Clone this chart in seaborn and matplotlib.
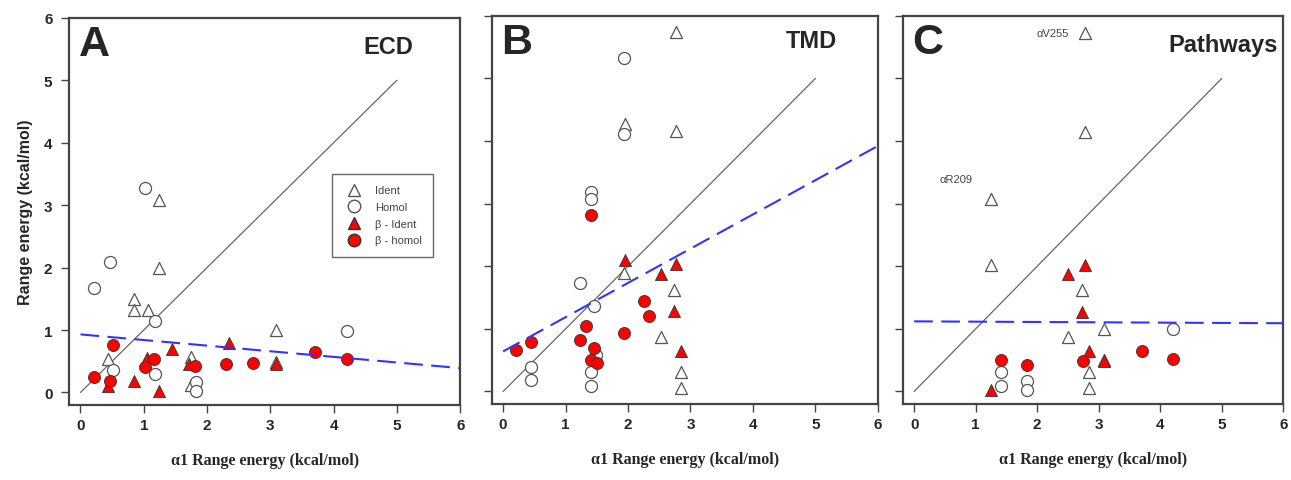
import numpy as np
import pandas as pd
import seaborn as sns
import matplotlib.pyplot as plt
from matplotlib.lines import Line2D

# values (alpha1 range energy vs beta range energy, kcal/mol)
# Panel A - ECD
a_ident_x = [1.24, 1.24, 0.85, 0.85, 1.06, 3.09, 0.44, 1.74, 1.74, 3.09]
a_ident_y = [3.08, 2.00, 1.49, 1.32, 1.32, 1.00, 0.54, 0.57, 0.12, 0.49]
a_homol_x = [1.02, 0.46, 0.22, 1.17, 4.21, 0.52, 1.17, 1.82, 1.82]
a_homol_y = [3.27, 2.09, 1.67, 1.14, 0.98, 0.36, 0.30, 0.17, 0.02]
a_bident_x = [2.34, 1.44, 1.05, 0.85, 1.24, 0.44, 3.09, 1.71]
a_bident_y = [0.80, 0.70, 0.55, 0.18, 0.02, 0.11, 0.46, 0.45]
a_bhomol_x = [0.52, 1.16, 1.02, 1.81, 2.30, 2.73, 3.71, 4.21, 0.22, 0.46]
a_bhomol_y = [0.76, 0.54, 0.40, 0.43, 0.46, 0.47, 0.65, 0.53, 0.24, 0.18]

# Panel B - TMD
b_ident_x = [2.77, 1.95, 2.77, 1.94, 2.73, 2.52, 2.84, 2.84]
b_ident_y = [5.74, 4.27, 4.16, 1.89, 1.62, 0.87, 0.31, 0.05]
b_homol_x = [1.94, 1.93, 1.40, 1.40, 1.23, 1.46, 1.48, 0.45, 0.45, 1.40, 1.40]
b_homol_y = [5.32, 4.11, 3.18, 3.08, 1.73, 1.37, 0.59, 0.39, 0.19, 0.31, 0.09]
b_bident_x = [1.95, 2.77, 2.52, 2.73, 2.84]
b_bident_y = [2.10, 2.04, 1.87, 1.28, 0.64]
b_bhomol_x = [1.40, 2.25, 2.33, 1.32, 1.93, 1.23, 1.45, 1.40, 1.50, 0.44, 0.20]
b_bhomol_y = [2.82, 1.45, 1.20, 1.04, 0.94, 0.82, 0.69, 0.50, 0.46, 0.79, 0.67]

# Panel C - Pathways
c_ident_x = [2.77, 2.77, 1.25, 1.25, 2.73, 2.50, 3.09, 2.84, 2.84, 3.09]
c_ident_y = [5.72, 4.15, 3.07, 2.02, 1.62, 0.87, 1.00, 0.31, 0.05, 0.50]
c_homol_x = [4.21, 1.41, 1.41, 1.83, 1.83]
c_homol_y = [0.99, 0.31, 0.09, 0.16, 0.03]
c_bident_x = [2.77, 2.50, 2.73, 2.84, 3.09, 1.25]
c_bident_y = [2.02, 1.87, 1.27, 0.64, 0.48, 0.02]
c_bhomol_x = [1.41, 1.83, 2.74, 3.70, 4.21]
c_bhomol_y = [0.50, 0.43, 0.48, 0.65, 0.52]

# identity line and fitted (dashed) lines: intercept, slope
diag_x = [0, 5]
diag_y = [0, 5]
fit_x = [0, 6]
fit_a = (0.93, -0.09)
fit_b = (0.64, 0.547)
fit_c = (1.12, -0.005)

panel_letters = ["A", "B", "C"]
panel_titles = ["ECD", "TMD", "Pathways"]
ticks = [0, 1, 2, 3, 4, 5, 6]

panels = [
    (a_ident_x, a_ident_y, a_homol_x, a_homol_y, a_bident_x, a_bident_y, a_bhomol_x, a_bhomol_y, fit_a),
    (b_ident_x, b_ident_y, b_homol_x, b_homol_y, b_bident_x, b_bident_y, b_bhomol_x, b_bhomol_y, fit_b),
    (c_ident_x, c_ident_y, c_homol_x, c_homol_y, c_bident_x, c_bident_y, c_bhomol_x, c_bhomol_y, fit_c),
]

sns.set_style("ticks")
plt.rcParams['font.family'] = ['Liberation Sans', 'DejaVu Sans']

fig = plt.figure(figsize=(12.91, 4.81), dpi=100)
# axes boxes
boxes = [[0.0535, 0.156, 0.303, 0.805],
         [0.381, 0.158, 0.299, 0.807],
         [0.6995, 0.158, 0.2945, 0.807]]
# title placement (axes fraction, right-aligned)
title_pos = [(0.88, 0.955), (0.895, 0.965), (0.985, 0.957)]

red = '#ff0000'
edge = '#555555'
ms = 75

for i, box in enumerate(boxes):
    ax = fig.add_axes(box)
    ix, iy, hx, hy, bix, biy, bhx, bhy, fit = panels[i]

    # identity line and the dashed fit
    sns.lineplot(x=diag_x, y=diag_y, ax=ax, color='#666666', lw=0.9, zorder=1)
    fy = [fit[0] + fit[1] * v for v in fit_x]
    sns.lineplot(x=fit_x, y=fy, ax=ax, color='#3333ff', lw=1.5, zorder=4,
                 linestyle=(0, (9, 4)))

    sns.scatterplot(x=ix, y=iy, ax=ax, marker='^', s=ms, color='white',
                    edgecolor=edge, linewidth=0.9, zorder=2)
    sns.scatterplot(x=hx, y=hy, ax=ax, marker='o', s=ms, color='white',
                    edgecolor=edge, linewidth=0.9, zorder=2)
    sns.scatterplot(x=bix, y=biy, ax=ax, marker='^', s=ms, color=red,
                    edgecolor='#333333', linewidth=0.6, zorder=3)
    sns.scatterplot(x=bhx, y=bhy, ax=ax, marker='o', s=ms, color=red,
                    edgecolor='#333333', linewidth=0.6, zorder=3)

    ax.set_xlim(-0.18, 6.0)
    ax.set_ylim(-0.2, 6.0)
    ax.set_xticks(ticks)
    ax.set_yticks(ticks)
    ax.tick_params(direction='out', length=6, width=1.0, color='#444444',
                   labelsize=11)
    ax.tick_params(axis='y', pad=6)
    for lab in ax.get_xticklabels() + ax.get_yticklabels():
        lab.set_fontweight('bold')
    if i > 0:
        ax.set_yticklabels([])
    for sp in ax.spines.values():
        sp.set_visible(True)
        sp.set_linewidth(1.6)
        sp.set_color('#444444')

    ax.set_xlabel('\u03b11 Range energy (kcal/mol)', fontsize=11.5,
                  fontweight='bold', labelpad=14,
                  family=['Liberation Serif', 'DejaVu Serif'])
    if i == 0:
        ax.set_ylabel('Range energy (kcal/mol)', fontsize=11.5,
                      fontweight='bold', labelpad=8)
    else:
        ax.set_ylabel('')

    ax.text(0.025, 0.985, panel_letters[i], transform=ax.transAxes,
            fontsize=31, fontweight='bold', va='top', ha='left')
    ax.text(title_pos[i][0], title_pos[i][1], panel_titles[i],
            transform=ax.transAxes, fontsize=17, fontweight='bold',
            va='top', ha='right')

    if i == 0:
        handles = [
            Line2D([], [], marker='^', ls='', color='white', markeredgecolor=edge, markersize=9),
            Line2D([], [], marker='o', ls='', color='white', markeredgecolor=edge, markersize=9),
            Line2D([], [], marker='^', ls='', color=red, markeredgecolor='#333333', markersize=9),
            Line2D([], [], marker='o', ls='', color=red, markeredgecolor='#333333', markersize=9),
        ]
        leg = ax.legend(handles, ['Ident', 'Homol', '\u03b2 - Ident', '\u03b2 - homol'],
                        loc='upper left', bbox_to_anchor=(0.657, 0.61),
                        fontsize=8, frameon=True, fancybox=False,
                        handletextpad=0.9, labelspacing=0.6, borderpad=1.0)
        leg.get_frame().set_edgecolor('#444444')
        leg.get_frame().set_linewidth(1.0)
        for t in leg.get_texts():
            t.set_color('#444444')
    elif ax.get_legend() is not None:
        ax.get_legend().remove()

    if i == 2:
        ax.text(2.52, 5.72, '\u03b1V255', fontsize=8, color='#444444',
                ha='right', va='center')
        ax.text(0.42, 3.40, '\u03b1R209', fontsize=8, color='#444444',
                ha='left', va='center')

plt.savefig('out.png', dpi=100)
plt.close()
